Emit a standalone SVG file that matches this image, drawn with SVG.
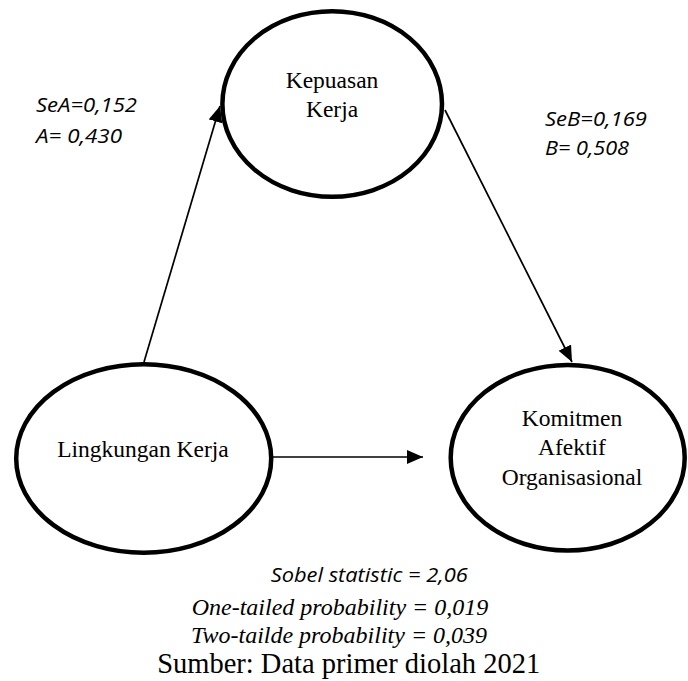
<svg xmlns="http://www.w3.org/2000/svg" width="688" height="681" viewBox="0 0 688 681">
<style>
.node{fill:#fff;stroke:#000;stroke-width:4.5}
.lbl{font-family:"Liberation Serif","Times New Roman",serif;font-size:23.5px;fill:#000;text-anchor:middle}
.stat{font-family:"Open Sans","Liberation Sans",sans-serif;font-style:italic;font-size:20px;fill:#000}
.prob{font-family:"Liberation Serif","Times New Roman",serif;font-style:italic;font-size:24px;fill:#000;text-anchor:middle}
.cap{font-family:"Liberation Serif","Times New Roman",serif;font-size:28.5px;fill:#000;text-anchor:middle}
.edge{stroke:#000;stroke-width:1.7;fill:none}
</style>
<defs>
<marker id="arr" markerUnits="userSpaceOnUse" markerWidth="18" markerHeight="16" refX="16" refY="7" orient="auto">
<path d="M0,0 L16,7 L0,14 z" fill="#000"/>
</marker>
</defs>
<rect width="688" height="681" fill="#fff"/>
<g id="connectors">
<line class="edge" x1="144" y1="362" x2="220" y2="106" marker-end="url(#arr)"/>
<line class="edge" x1="445" y1="110" x2="572" y2="362" marker-end="url(#arr)"/>
<line class="edge" x1="260" y1="457" x2="423" y2="457" marker-end="url(#arr)"/>
</g>
<g id="kepuasan">
<ellipse class="node" cx="332.2" cy="104" rx="109.8" ry="92.8"/>
<text class="lbl" x="332" y="88">Kepuasan</text>
<text class="lbl" x="332" y="117">Kerja</text>
</g>
<g id="lingkungan">
<ellipse class="node" cx="143.7" cy="458.5" rx="127.5" ry="94.3"/>
<text class="lbl" x="143" y="456.7">Lingkungan Kerja</text>
</g>
<g id="komitmen">
<ellipse class="node" cx="567.7" cy="457.7" rx="117" ry="92.8"/>
<text class="lbl" x="572" y="426">Komitmen</text>
<text class="lbl" x="572" y="455">Afektif</text>
<text class="lbl" x="572" y="485">Organisasional</text>
</g>
<g id="labels">
<text class="stat" x="36" y="111.7" textLength="101" lengthAdjust="spacingAndGlyphs">SeA=0,152</text>
<text class="stat" x="36" y="143.3" textLength="86" lengthAdjust="spacingAndGlyphs">A= 0,430</text>
<text class="stat" x="545" y="125.7" textLength="102" lengthAdjust="spacingAndGlyphs">SeB=0,169</text>
<text class="stat" x="545" y="155" textLength="84" lengthAdjust="spacingAndGlyphs">B= 0,508</text>
<text class="stat" x="270.7" y="581.7" textLength="197" lengthAdjust="spacingAndGlyphs">Sobel statistic = 2,06</text>
<text class="prob" x="340" y="615">One-tailed probability = 0,019</text>
<text class="prob" x="339" y="643">Two-tailde probability = 0,039</text>
<text class="cap" x="348.7" y="672.7">Sumber: Data primer diolah 2021</text>
</g>
</svg>
